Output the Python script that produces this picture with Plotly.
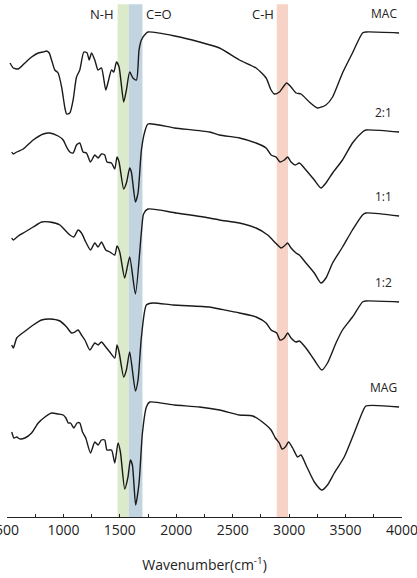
import plotly.graph_objects as go

# Wavenumber (cm-1) and stacked transmittance (a.u.)
mac_x = [527, 556, 600, 659, 718, 777, 821, 851, 874, 895, 924, 953, 984, 1013, 1028, 1057, 1086, 1116, 1145,
         1181, 1210, 1228, 1249, 1278, 1307, 1337, 1375, 1396, 1426, 1446, 1470, 1493, 1534, 1558, 1587, 1616,
         1647, 1670, 1691, 1735, 1749, 1985, 2206, 2383, 2560, 2707, 2796, 2840, 2869, 2913, 2978, 3017, 3061,
         3105, 3179, 3252, 3326, 3385, 3473, 3561, 3650, 3680, 3974]
mac_y = [454, 449, 448, 454, 460, 464, 465, 466, 464, 457, 447, 444, 430, 409, 403, 404, 417, 440, 447,
         465, 464, 457, 464, 457, 447, 449, 427, 435, 447, 445, 455, 450, 415, 427, 445, 439,
         437, 467, 477, 484, 485, 481, 475, 469, 457, 449, 439, 427, 423, 425, 434, 430, 424,
         423, 415, 409, 412, 420, 444, 464, 484, 485, 484]

r21_x = [542, 556, 586, 644, 732, 821, 880, 953, 998, 1028, 1057, 1086, 1116, 1145, 1174, 1204, 1240, 1278,
         1307, 1337, 1366, 1386, 1426, 1455, 1475, 1493, 1534, 1558, 1587, 1602, 1638, 1661, 1691, 1720, 1749,
         1985, 2294, 2383, 2560, 2707, 2796, 2840, 2884, 2920, 2957, 2987, 3017, 3055, 3090, 3149, 3223, 3282,
         3326, 3385, 3473, 3561, 3650, 3680, 3974]
r21_y = [365, 363, 365, 368, 377, 383, 384, 381, 377, 370, 365, 364, 372, 374, 365, 364, 355, 362,
         359, 363, 362, 355, 354, 348, 360, 355, 328, 334, 349, 345, 315, 324, 367, 385, 393,
         389, 385, 382, 379, 374, 369, 362, 360, 355, 357, 360, 355, 352, 354, 347, 337, 329,
         334, 344, 357, 374, 385, 387, 385]

r11_x = [542, 556, 600, 659, 732, 807, 880, 969, 1013, 1057, 1092, 1130, 1160, 1198, 1240, 1278, 1307, 1337,
         1375, 1411, 1455, 1475, 1499, 1543, 1587, 1638, 1691, 1710, 1749, 2000, 2294, 2383, 2560, 2707, 2810,
         2854, 2898, 2928, 2957, 2987, 3017, 3061, 3090, 3149, 3223, 3282, 3326, 3385, 3473, 3561, 3650, 3680,
         3974]
r11_y = [279, 277, 281, 285, 290, 295, 295, 292, 287, 282, 280, 287, 284, 275, 267, 274, 270, 275,
         267, 265, 262, 271, 265, 239, 260, 223, 285, 303, 308, 304, 299, 297, 294, 289, 282,
         277, 272, 269, 271, 274, 269, 264, 262, 254, 244, 234, 239, 254, 270, 287, 302, 304,
         301]

r12_x = [542, 556, 586, 615, 674, 732, 807, 880, 969, 1028, 1072, 1101, 1130, 1160, 1190, 1234, 1278, 1307,
         1337, 1375, 1411, 1455, 1475, 1493, 1534, 1558, 1587, 1638, 1661, 1691, 1735, 1793, 1970, 2294, 2383,
         2560, 2707, 2796, 2840, 2890, 2920, 2957, 2987, 3017, 3061, 3090, 3149, 3223, 3290, 3340, 3415, 3473,
         3561, 3650, 3680, 3974]
r12_y = [172, 169, 179, 182, 187, 192, 197, 198, 196, 190, 184, 185, 187, 182, 177, 167, 174, 172,
         175, 170, 165, 159, 172, 165, 140, 147, 165, 126, 137, 180, 212, 214, 212, 210, 208,
         204, 200, 194, 187, 184, 177, 179, 184, 179, 175, 176, 169, 157, 147, 154, 174, 187,
         200, 215, 216, 215]

mag_x = [542, 562, 586, 615, 659, 718, 777, 836, 895, 953, 998, 1022, 1042, 1063, 1092, 1121, 1145, 1169,
         1198, 1240, 1278, 1307, 1337, 1366, 1386, 1426, 1455, 1484, 1505, 1543, 1572, 1593, 1611, 1640, 1670,
         1700, 1735, 1764, 1985, 2206, 2383, 2560, 2677, 2796, 2840, 2878, 2913, 2937, 2966, 2995, 3031, 3075,
         3105, 3149, 3223, 3290, 3340, 3400, 3488, 3576, 3650, 3680, 3974]
mag_y = [85, 79, 80, 78, 79, 84, 94, 100, 104, 103, 102, 99, 94, 94, 89, 94, 94, 85,
         79, 64, 75, 72, 77, 77, 67, 67, 54, 74, 65, 28, 40, 57, 52, 12, 34,
         84, 110, 115, 112, 110, 107, 102, 101, 92, 87, 79, 74, 68, 70, 75, 69, 60,
         62, 52, 35, 27, 32, 44, 60, 84, 105, 111, 110]

series_names = ["MAC", "2:1", "1:1", "1:2", "MAG"]
series_x = [mac_x, r21_x, r11_x, r12_x, mag_x]
series_y = [mac_y, r21_y, r11_y, r12_y, mag_y]

# Highlighted absorption bands (cm-1)
band_labels = ["N-H", "C=O", "C-H"]
band_ranges = [(1480, 1580), (1580, 1700), (2890, 2990)]
band_colors = ["#dbeacb", "#c3d4e1", "#f6d3c6"]

x_ticks = [500, 1000, 1500, 2000, 2500, 3000, 3500, 4000]

FONT = "Open Sans"
TXT = "#222222"

fig = go.Figure()

for (x0, x1), col in zip(band_ranges, band_colors):
    fig.add_shape(type="rect", xref="x", yref="paper", x0=x0, x1=x1, y0=0, y1=0.992,
                  fillcolor=col, line_width=0, layer="below")

for name, xs, ys in zip(series_names, series_x, series_y):
    fig.add_trace(go.Scatter(x=xs, y=ys, mode="lines", name=name,
                             line=dict(color="#1a1a1a", width=1.4, shape="spline", smoothing=0.6),
                             showlegend=False, hoverinfo="skip"))
    fig.add_annotation(x=3840, y=ys[-1] + 9, text=name, showarrow=False,
                       xanchor="center", yanchor="bottom",
                       font=dict(family=FONT, size=12, color=TXT))

# Band labels
fig.add_annotation(x=band_ranges[0][0] - 15, y=1.0, yref="paper", text=band_labels[0], showarrow=False,
                   xanchor="right", yanchor="top", yshift=-3, font=dict(family=FONT, size=13, color=TXT))
fig.add_annotation(x=band_ranges[1][1] + 15, y=1.0, yref="paper", text=band_labels[1], showarrow=False,
                   xanchor="left", yanchor="top", yshift=-3, font=dict(family=FONT, size=13, color=TXT))
fig.add_annotation(x=band_ranges[2][0] - 10, y=1.0, yref="paper", text=band_labels[2], showarrow=False,
                   xanchor="right", yanchor="top", yshift=-3, font=dict(family=FONT, size=13, color=TXT))

fig.update_layout(
    width=417, height=578,
    margin=dict(l=7, r=15, t=0, b=61, autoexpand=False),
    paper_bgcolor="white", plot_bgcolor="white",
    xaxis=dict(range=[500, 4000], tickvals=x_ticks, ticks="inside", ticklen=3, tickcolor="#222",
               showline=True, linecolor="#222", linewidth=1.2, showgrid=False, zeroline=False,
               automargin=False, ticklabeloverflow="allow",
               minor=dict(dtick=250, tick0=500, ticks="inside", ticklen=3, tickcolor="#222", showgrid=False),
               tickfont=dict(family=FONT, size=14, color=TXT),
               title=dict(text="Wavenumber(cm<sup>-1</sup>)", standoff=22,
                          font=dict(family=FONT, size=14, color=TXT))),
    yaxis=dict(range=[0, 517], visible=False, showgrid=False, zeroline=False),
)

fig.write_html("out.html")
